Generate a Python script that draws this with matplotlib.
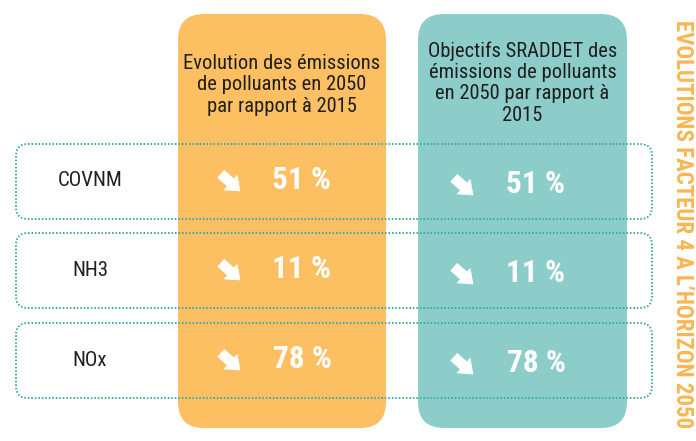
import matplotlib.pyplot as plt
from matplotlib.patches import FancyBboxPatch

plt.rcParams['font.family'] = ['Roboto Condensed', 'DejaVu Sans']

# data
pollutants = ["COVNM", "NH3", "NOx"]
evolution_2050 = [51, 11, 78]      # % de baisse 2050 / 2015
objectifs_sraddet = [51, 11, 78]   # % de baisse 2050 / 2015
headers = ["Evolution des émissions\nde polluants en 2050\npar rapport à 2015",
           "Objectifs SRADDET des\némissions de polluants\nen 2050 par rapport à\n2015"]
side_title = "EVOLUTIONS FACTEUR 4 A L\u2019HORIZON 2050"

orange = "#fcbf62"
teal = "#8ccdca"
dots = "#3aaaa9"

fig = plt.figure(figsize=(6.96, 4.41), dpi=100)
ax = fig.add_axes([0, 0, 1, 1])
ax.set_xlim(0, 696)
ax.set_ylim(441, 0)
ax.axis("off")

# colonnes (layout in pixels): x0, x1, colour, arrow offset, value offset, dy
cols = [(178, 386, orange, 52, 124, -1), (418, 627, teal, 45, 118, 3)]
for (x0, x1, c, _, _, _) in cols:
    ax.add_patch(FancyBboxPatch((x0 + 26, 14 + 26), x1 - x0 - 52, 414 - 52,
                                boxstyle="round,pad=26", fc=c, ec="none", zorder=1))

header_y = [85, 83]
for (x0, x1, *_), h, hy in zip(cols, headers, header_y):
    ax.text((x0 + x1) / 2, hy, h, ha="center", va="center", fontsize=14.8,
            linespacing=1.15, color="#1e1e1e", zorder=3)

row_y = [181, 270, 360]
for i, (name, v1, v2) in enumerate(zip(pollutants, evolution_2050, objectifs_sraddet)):
    y = row_y[i]
    ax.add_patch(FancyBboxPatch((16 + 12, y - 37 + 12), 636 - 24, 75 - 24,
                                boxstyle="round,pad=12", fc="none", ec=dots,
                                lw=1.4, ls=(0, (0.8, 1.0)), zorder=2))
    ax.text(90, y, name, ha="center", va="center", fontsize=15, color="#1e1e1e", zorder=3)
    for (x0, x1, c, ax_off, v_off, dy), v in zip(cols, [v1, v2]):
        ya = y + dy + 2
        ax.annotate("", xy=(x0 + ax_off + 10, ya + 9), xytext=(x0 + ax_off - 9, ya - 8),
                    arrowprops=dict(arrowstyle="simple,head_width=1.4,head_length=0.9,tail_width=0.7",
                                    fc="white", ec="white", lw=0.5, shrinkA=0, shrinkB=0),
                    zorder=3)
        ax.text(x0 + v_off, y + dy, f"{v} %", ha="center", va="center", fontsize=22.5,
                color="white", fontweight="bold", zorder=3)

ax.text(683, 224, side_title, rotation=-90, ha="center", va="center",
        fontsize=16.5, fontweight="bold", color="#f9b651", zorder=3)

fig.savefig("out.png", dpi=100)
